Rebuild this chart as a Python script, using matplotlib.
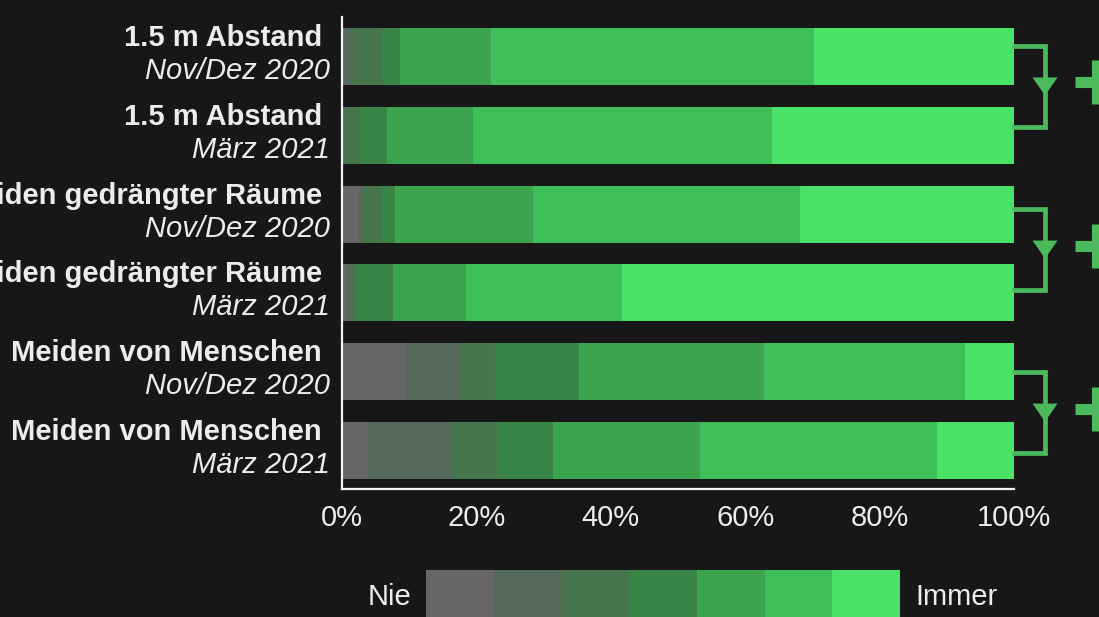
import matplotlib
matplotlib.use("Agg")
import matplotlib.pyplot as plt
import numpy as np

# ---------------- data ----------------
levels = ["Nie", "2", "3", "4", "5", "6", "Immer"]
items = ["1.5 m Abstand", "1.5 m Abstand",
         "Meiden gedrängter Räume", "Meiden gedrängter Räume",
         "Meiden von Menschen", "Meiden von Menschen"]
waves = ["Nov/Dez 2020", "März 2021",
         "Nov/Dez 2020", "März 2021",
         "Nov/Dez 2020", "März 2021"]

abstand_nov = [0.3, 1.5, 4.2, 2.7, 13.4, 48.2, 29.7]
abstand_mar = [0.0, 0.0, 2.7, 4.0, 12.8, 44.5, 36.0]
raeume_nov = [2.5, 0.8, 2.6, 2.0, 20.5, 39.7, 31.9]
raeume_mar = [0.6, 0.8, 0.9, 5.3, 10.9, 23.1, 58.4]
menschen_nov = [9.4, 8.0, 5.3, 12.6, 27.5, 29.9, 7.3]
menschen_mar = [3.9, 12.4, 6.8, 8.3, 21.9, 35.3, 11.4]

xticks = [0, 20, 40, 60, 80, 100]
xtick_labels = ["0%", "20%", "40%", "60%", "80%", "100%"]
pairs = [(0, 1), (2, 3), (4, 5)]

# ---------------- style ----------------
colors = ["#676767", "#556a5b", "#46754e", "#398548",
          "#3ca34e", "#3fbf59", "#4ae167"]
bg = "#171717"
fg = "#eaecee"
bracket_col = "#4cb95c"
plt.rcParams["font.family"] = ["Liberation Sans", "DejaVu Sans"]
FS = 21

rows = [abstand_nov, abstand_mar, raeume_nov, raeume_mar, menschen_nov, menschen_mar]
data = np.array(rows)

fig = plt.figure(figsize=(10.99, 6.17), dpi=100, facecolor=bg)
ax = fig.add_axes([342/1099, 1-489/617, 672/1099, (489-16.7)/617])
ax.set_facecolor(bg)

ypos = np.arange(len(rows))
left = np.zeros(len(rows))
for k in range(len(levels)):
    ax.barh(ypos, data[:, k], left=left, height=0.723, color=colors[k],
            linewidth=0)
    left += data[:, k]

ax.set_xlim(0, 100)
ax.set_ylim(5.49, -0.505)
ax.set_xticks(xticks)
ax.set_xticklabels(xtick_labels)
ax.tick_params(axis="x", length=0, pad=11, labelsize=FS, colors=fg)
ax.set_yticks([])
for s in ["top", "right"]:
    ax.spines[s].set_visible(False)
for s in ["left", "bottom"]:
    ax.spines[s].set_color("#f2f2f2")
    ax.spines[s].set_linewidth(1.6)

# y labels (two lines)
for i in range(len(rows)):
    ax.annotate(items[i] + " ", xy=(0, i), xycoords="data",
                xytext=(-12, 10.5), textcoords="offset pixels",
                ha="right", va="baseline", fontsize=FS, fontweight="bold",
                color=fg, annotation_clip=False)
    ax.annotate(waves[i], xy=(0, i), xycoords="data",
                xytext=(-12, -22.5), textcoords="offset pixels",
                ha="right", va="baseline", fontsize=FS, style="italic",
                color=fg, annotation_clip=False)

# brackets with arrows and plus signs
xv = (1045 - 342) / 6.72
px_x = 100 / 672.0
px_y = 1 / 78.8
for (a, b) in pairs:
    ya = a * 1.035 - 0.137
    yb = b * 1.035 - 0.137
    ax.plot([100, xv, xv, 100], [ya, ya, yb, yb], color=bracket_col,
            lw=3.4, solid_joinstyle="miter", clip_on=False)
    mid = (ya + yb) / 2
    w = 25 * px_x
    h = 18 * px_y
    tri = plt.Polygon([[xv - w/2, mid - h/2], [xv + w/2, mid - h/2], [xv, mid + h/2]],
                      closed=True, color=bracket_col, clip_on=False, linewidth=0)
    ax.add_patch(tri)
    cx = (1096.5 - 342) * px_x
    cy = mid - 4 * px_y
    arm_x = 21.5 * px_x
    arm_y = 22 * px_y
    ax.plot([cx - arm_x, cx + arm_x], [cy, cy], color=bracket_col, lw=8,
            solid_capstyle="butt", clip_on=False)
    ax.plot([cx, cx], [cy - arm_y, cy + arm_y], color=bracket_col, lw=8,
            solid_capstyle="butt", clip_on=False)

# legend strip
lax = fig.add_axes([426/1099, -0.02, 474/1099, 1 - 570/617 + 0.02])
lax.set_facecolor(bg)
lax.bar(np.arange(len(levels)), 1, width=1.0, color=colors, linewidth=0)
lax.set_xlim(-0.5, len(levels) - 0.5)
lax.set_ylim(0, 1)
lax.axis("off")
fig.text(411/1099, 1 - 605/617, levels[0], ha="right", va="baseline",
         fontsize=FS, color=fg)
fig.text(915/1099, 1 - 605/617, levels[-1], ha="left", va="baseline",
         fontsize=FS, color=fg)

fig.savefig("out.png", dpi=100, facecolor=bg)
